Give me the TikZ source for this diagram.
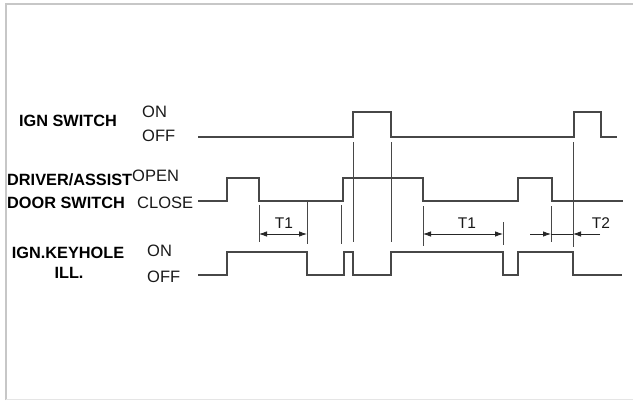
\documentclass[tikz,border=0pt]{standalone}
\usepackage{fontspec}
\setmainfont{Liberation Sans}
\usetikzlibrary{arrows.meta}
\begin{document}
\begin{tikzpicture}[x=1pt,y=-1pt,
 wave/.style={line width=1.5pt, draw=black!72, line join=miter},
 guide/.style={line width=0.9pt, draw=black!72},
 dimline/.style={line width=0.8pt, draw=black!85},
 dimarrow/.style={line width=0.8pt, draw=black!85, -{Latex[length=8pt,width=5.5pt]}},
 sig/.style={font=\fontsize{16.3}{17}\selectfont\bfseries, inner sep=0pt, text=black},
 lvl/.style={font=\fontsize{16.5}{17}\selectfont, inner sep=0pt, anchor=west, text=black!90},
 tlab/.style={font=\fontsize{15.5}{16}\selectfont, inner sep=0pt, text=black!90},
]
\useasboundingbox (0,0) rectangle (633,400);
\fill[white] (0,0) rectangle (633,400);
\draw[black!22, line width=2pt] (6,400) -- (6,4) -- (633,4);
\draw[black!10, line width=1pt] (6,399.5) -- (633,399.5);

% labels
\node[sig] (ign) at (68,121) {IGN SWITCH};
\node[lvl] (ignon) at (142,112) {ON};
\node[lvl] (ignoff) at (142,136) {OFF};
\node[sig, anchor=west] (drv) at (7,180) {DRIVER/ASSIST};
\node[sig, anchor=west] (door) at (7,203) {DOOR SWITCH};
\node[lvl] (open) at (132,176) {OPEN};
\node[lvl] (close) at (137,203) {CLOSE};
\node[sig] (key) at (68,253) {IGN.KEYHOLE};
\node[sig] (ill) at (69,273) {ILL.};
\node[lvl] (illon) at (147,251) {ON};
\node[lvl] (illoff) at (147,277) {OFF};

% waveforms
\draw[wave] (198,137) -- (353,137) -- (353,112) -- (391,112) -- (391,137) -- (574,137) -- (574,112) -- (601,112) -- (601,137) -- (617,137);
\draw[wave] (198,201) -- (227,201) -- (227,178) -- (259,178) -- (259,201) -- (343,201) -- (343,178) -- (423,178) -- (423,201) -- (518,201) -- (518,178) -- (552,178) -- (552,201) -- (623,201);
\draw[wave] (198,275) -- (227,275) -- (227,252) -- (307,252) -- (307,275) -- (344,275) -- (344,252) -- (353,252) -- (353,275) -- (391,275) -- (391,252) -- (503,252) -- (503,275) -- (518,275) -- (518,252) -- (573,252) -- (573,275) -- (622,275);

% guide lines
\draw[guide] (259,205) -- (259,242);
\draw[guide] (307,201) -- (307,244);
\draw[guide] (341,205) -- (341,244);
\draw[guide] (353,142) -- (353,242);
\draw[guide] (391,142) -- (391,242);
\draw[guide] (423,206) -- (423,246);
\draw[guide] (503,222) -- (503,245);
\draw[guide] (551,206) -- (551,242);
\draw[guide] (573,142) -- (573,247);

% dimension coordinates
\coordinate (a1) at (259,234);
\coordinate (b1) at (307,234);
\coordinate (a2) at (423,234);
\coordinate (b2) at (503,234);
\coordinate (t2l) at (530,234);
\coordinate (a3) at (551,234);
\coordinate (b3) at (573,234);
\coordinate (t2r) at (600,234);

\draw[dimline, {Latex[length=8pt,width=5.5pt]}-{Latex[length=8pt,width=5.5pt]}] (a1) -- (b1);
\draw[dimline, {Latex[length=8pt,width=5.5pt]}-{Latex[length=8pt,width=5.5pt]}] (a2) -- (b2);
\draw[dimline] (a3) -- (b3);
\draw[dimarrow] (t2l) -- (a3);
\draw[dimarrow] (t2r) -- (b3);

\node[tlab] (t1a) at (284,223) {T1};
\node[tlab] (t1b) at (467,223) {T1};
\node[tlab] (t2) at (601,223) {T2};
\end{tikzpicture}
\end{document}
